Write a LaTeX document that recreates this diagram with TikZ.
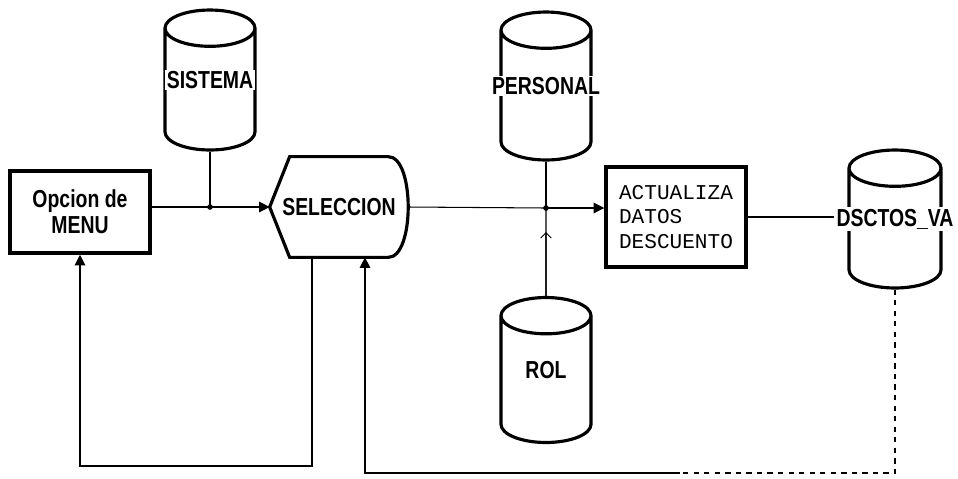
\documentclass[tikz,border=0pt]{standalone}
\usepackage{fontspec}
\newfontfamily\plotfont[FakeStretch=0.79]{Liberation Sans}
\newfontfamily\plotmono{Liberation Mono}
\usetikzlibrary{arrows.meta, positioning, shapes.geometric}

\begin{document}
\begin{tikzpicture}[
    x=0.02cm, y=-0.02cm,
    font=\plotfont\bfseries\fontsize{14}{15}\selectfont,
    proc/.style={draw, line width=2pt, minimum width=2.8cm, minimum height=1.64cm, align=center},
    datos/.style={cylinder, shape border rotate=90, draw, line width=1.8pt, aspect=3.1, anchor=shape center, minimum width=1.8cm, minimum height=2.8cm},
    lbl/.style={fill=white, inner sep=1pt, anchor=center},
    arr/.style={-{Triangle[length=6pt,width=6pt]}, semithick},
    line/.style={semithick},
]
\useasboundingbox (0,0) rectangle (958,478);

\node[proc] (menu) at (80,212) {Opcion de\\MENU};
\node[minimum width=2.76cm, minimum height=2cm] (sel) at (339,207) {SELECCION};
\node[proc, minimum height=2cm, align=left, font=\plotmono\mdseries\fontsize{12}{13.7}\selectfont] (act) at (676,217) {ACTUALIZA\\DATOS\\DESCUENTO};

\node[datos, label={[lbl]shape center:SISTEMA}] (sis) at (210,80) {};
\node[datos, minimum height=2.96cm, label={[lbl]shape center:PERSONAL}] (per) at (546,86) {};
\node[datos, minimum height=2.9cm, label={[lbl]shape center:ROL}] (rol) at (546,370) {};
\node[datos, minimum width=1.84cm, minimum height=2.76cm, label={[lbl, name=dsl]shape center:DSCTOS\_VA}] (ds) at (895,219) {};

% borde de seleccion
\draw[line width=1.8pt] (sel.west) -- ([xshift=0.4cm]sel.north west) -- ([xshift=-0.4cm]sel.north east)
    .. controls ([xshift=0.13cm]sel.north east) and ([xshift=0.13cm]sel.south east) .. ([xshift=-0.4cm]sel.south east)
    -- ([xshift=0.4cm]sel.south west) -- cycle;

\coordinate (j1) at (210,207);
\coordinate (j2) at (546,208);
\coordinate (fb1) at (0,466);
\coordinate (fb2) at (0,473);
\coordinate (fbm) at (680,473);

\draw[line] (menu.east |- j1) -- (j1);
\draw[line] (sis.south) -- (j1);
\draw[arr] (j1) -- (sel.west);
\fill (j1) circle[radius=1.6pt];

\draw[line] (sel.east) -- (j2);
\draw[line] (per.south) -- (j2);
\draw[line] (rol.north) -- (j2);
\draw[line, -{Straight Barb[length=3pt,width=6pt]}] (rol.north) -- ([yshift=-0.48cm]j2);
\draw[arr] (j2) -- (act.west |- j2);
\fill (j2) circle[radius=1.6pt];

\draw[line] (act.east) -- (act.east -| dsl.west);

\draw[arr] ([xshift=-0.54cm]sel.south) |- (menu.south |- fb1) -- (menu.south);
\draw[line, dashed] (ds.south) -- (ds.south |- fb2) -- (fbm);
\draw[arr] (fbm) -| ([xshift=0.52cm]sel.south);

\end{tikzpicture}
\end{document}
